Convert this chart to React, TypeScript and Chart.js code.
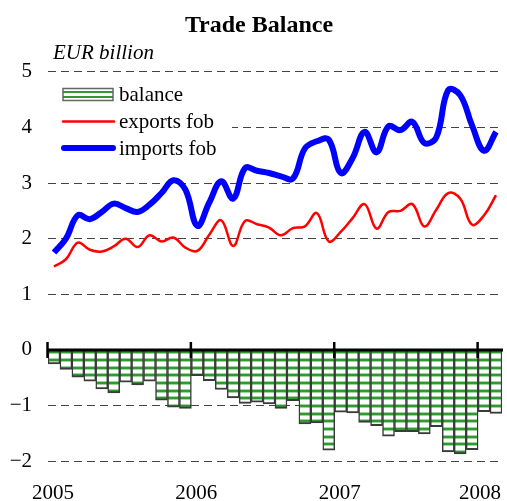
import React, { useEffect, useRef } from 'react';
import { Chart, registerables } from 'chart.js';

Chart.register(...registerables);

// ---- Data (monthly, Jan 2005 – Feb 2008), EUR billion ----
const yearLabels = ['2005', '2006', '2007', '2008'];
const yearStartIndex = [0, 12, 24, 36];
const yTickValues = [-2, -1, 0, 1, 2, 3, 4, 5];

const exportsFob = [
  1.50, 1.63, 1.93, 1.80, 1.77, 1.86, 2.00, 1.85, 2.06, 1.95, 2.02, 1.84,
  1.78, 2.07, 2.33, 1.87, 2.32, 2.26, 2.20, 2.06, 2.19, 2.22, 2.46, 1.95,
  2.12, 2.37, 2.62, 2.18, 2.48, 2.50, 2.62, 2.22, 2.52, 2.82, 2.72, 2.25,
  2.42, 2.78,
];
const importsFob = [
  1.75, 2.00, 2.42, 2.35, 2.48, 2.63, 2.55, 2.48, 2.61, 2.82, 3.05, 2.88,
  2.23, 2.65, 3.03, 2.72, 3.27, 3.22, 3.18, 3.12, 3.08, 3.62, 3.75, 3.78,
  3.18, 3.45, 3.92, 3.55, 4.02, 3.95, 4.10, 3.72, 3.82, 4.67, 4.58, 4.03,
  3.58, 3.92,
];
const balance = [
  -0.25, -0.35, -0.49, -0.56, -0.70, -0.77, -0.58, -0.63, -0.56, -0.90, -1.03, -1.05,
  -0.46, -0.55, -0.71, -0.86, -0.96, -0.94, -0.97, -1.05, -0.91, -1.33, -1.31, -1.80,
  -1.12, -1.13, -1.30, -1.36, -1.55, -1.47, -1.47, -1.51, -1.38, -1.83, -1.87, -1.79,
  -1.11, -1.14,
];

const FONT = "'Liberation Serif', 'Times New Roman', serif";
const GREEN = '#2f9a2f';

function makeStripePattern(ctx: CanvasRenderingContext2D): CanvasPattern | string {
  const c = document.createElement('canvas');
  c.width = 8;
  c.height = 23;
  const p = c.getContext('2d');
  if (!p) return '#fff';
  p.fillStyle = '#ffffff';
  p.fillRect(0, 0, 8, 23);
  p.fillStyle = '#9fd49f';
  p.fillRect(0, 5, 8, 4);
  p.fillRect(0, 13, 8, 4);
  p.fillRect(0, 21, 8, 2);
  p.fillRect(0, 0, 8, 2);
  p.fillStyle = GREEN;
  p.fillRect(0, 6, 8, 2);
  p.fillRect(0, 14, 8, 2);
  p.fillRect(0, 22, 8, 1);
  p.fillRect(0, 0, 8, 1);
  return ctx.createPattern(c, 'repeat') || '#fff';
}

const decorPlugin = {
  id: 'decor',
  beforeDatasetsDraw(chart: any) {
    const { ctx } = chart;
    ctx.save();
    // legend background
    ctx.fillStyle = '#ffffff';
    ctx.fillRect(48, 79, 184, 84);
    // balance swatch
    ctx.fillStyle = '#ffffff';
    ctx.fillRect(63, 89, 50, 11);
    ctx.strokeStyle = GREEN;
    ctx.lineWidth = 2;
    ctx.beginPath();
    ctx.moveTo(63, 92);
    ctx.lineTo(113, 92);
    ctx.moveTo(63, 97);
    ctx.lineTo(113, 97);
    ctx.stroke();
    ctx.strokeStyle = '#666';
    ctx.lineWidth = 1.5;
    ctx.strokeRect(63, 88.5, 50, 12);
    // exports line
    ctx.lineCap = 'round';
    ctx.strokeStyle = '#ff0000';
    ctx.lineWidth = 2.5;
    ctx.beginPath();
    ctx.moveTo(63, 121.5);
    ctx.lineTo(114, 121.5);
    ctx.stroke();
    // imports line
    ctx.strokeStyle = '#0000ff';
    ctx.lineWidth = 6;
    ctx.beginPath();
    ctx.moveTo(64, 148);
    ctx.lineTo(113, 148);
    ctx.stroke();
    // legend text
    ctx.fillStyle = '#000';
    ctx.font = `21px ${FONT}`;
    ctx.textAlign = 'left';
    ctx.textBaseline = 'alphabetic';
    ctx.fillText('balance', 119, 101);
    ctx.fillText('exports fob', 119, 128);
    ctx.fillText('imports fob', 119, 155);
    ctx.restore();
  },
  afterDatasetsDraw(chart: any) {
    const { ctx, chartArea, scales } = chart;
    const x = scales.x;
    const y = scales.y;
    const y0 = Math.round(y.getPixelForValue(0));
    ctx.save();
    // zero line
    ctx.strokeStyle = '#000';
    ctx.lineWidth = 3;
    ctx.beginPath();
    ctx.moveTo(chartArea.left, y0);
    ctx.lineTo(chartArea.right + 1, y0);
    ctx.stroke();
    // year tick marks
    ctx.lineWidth = 2.5;
    yearStartIndex.forEach((v) => {
      const px = x.getPixelForValue(v) - 0.5;
      ctx.beginPath();
      ctx.moveTo(px, y0 - 8);
      ctx.lineTo(px, y0 + 8);
      ctx.stroke();
    });
    // x labels
    ctx.fillStyle = '#000';
    ctx.font = `21px ${FONT}`;
    ctx.textAlign = 'center';
    ctx.textBaseline = 'alphabetic';
    yearLabels.forEach((lab, i) => {
      const w = ctx.measureText(lab).width;
      let cx = x.getPixelForValue(yearStartIndex[i]) + 5;
      const maxCx = chart.width - 6 - w / 2;
      if (cx > maxCx) cx = maxCx;
      ctx.fillText(lab, cx, 499);
    });
    // title
    ctx.font = `bold 24px ${FONT}`;
    ctx.fillText('Trade Balance', 259, 32);
    // unit
    ctx.font = `italic 21px ${FONT}`;
    ctx.textAlign = 'left';
    ctx.fillText('EUR billion', 53, 59);
    ctx.restore();
  },
};

export default function App() {
  const canvasRef = useRef<HTMLCanvasElement | null>(null);

  useEffect(() => {
    document.body.style.margin = '0';
    const canvas = canvasRef.current;
    if (!canvas) return;
    const ctx = canvas.getContext('2d');
    if (!ctx) return;
    const pattern = makeStripePattern(ctx);

    const chart = new Chart(ctx, {
      type: 'bar',
      data: {
        datasets: [
          {
            type: 'line',
            label: 'imports fob',
            data: importsFob.map((v, i) => ({ x: i + 0.5, y: v })),
            borderColor: '#0000ff',
            borderWidth: 6,
            pointRadius: 0,
            tension: 0.4,
            fill: false,
            order: 1,
          } as any,
          {
            type: 'line',
            label: 'exports fob',
            data: exportsFob.map((v, i) => ({ x: i + 0.5, y: v })),
            borderColor: '#ff0000',
            borderWidth: 2.5,
            pointRadius: 0,
            tension: 0.4,
            fill: false,
            order: 2,
          } as any,
          {
            type: 'bar',
            label: 'balance',
            data: balance.map((v, i) => ({ x: i + 0.5, y: v })),
            backgroundColor: pattern as any,
            borderColor: '#3a3a3a',
            borderWidth: { top: 0, left: 1.5, right: 1.5, bottom: 2 },
            borderSkipped: 'start',
            barPercentage: 1,
            categoryPercentage: 1,
            order: 3,
          } as any,
        ],
      },
      options: {
        responsive: false,
        animation: false,
        layout: { padding: { top: 55, right: 5, bottom: 24, left: 0 } },
        plugins: {
          legend: { display: false },
          title: { display: false },
          tooltip: { enabled: false },
        },
        scales: {
          x: {
            type: 'linear',
            display: false,
            offset: false,
            grid: { offset: false },
            min: 0,
            max: 38,
          },
          y: {
            type: 'linear',
            min: -2.2,
            max: 5.3,
            afterBuildTicks: (scale: any) => {
              scale.ticks = yTickValues.map((v) => ({ value: v }));
            },
            afterFit: (scale: any) => {
              scale.width = 48;
            },
            grid: {
              color: '#444',
              lineWidth: 1,
              drawTicks: false,
            },
            border: { display: false, dash: [8, 5] },
            ticks: {
              padding: 16,
              color: '#000',
              font: { family: FONT, size: 21 },
              callback: (v: any) => (Number(v) < 0 ? '\u2212' + Math.abs(Number(v)) : String(v)),
            },
          },
        },
      },
      plugins: [decorPlugin],
    });

    return () => chart.destroy();
  }, []);

  return (
    <div style={{ width: 507, height: 501 }}>
      <canvas ref={canvasRef} width={507} height={501} style={{ display: 'block' }} />
    </div>
  );
}
